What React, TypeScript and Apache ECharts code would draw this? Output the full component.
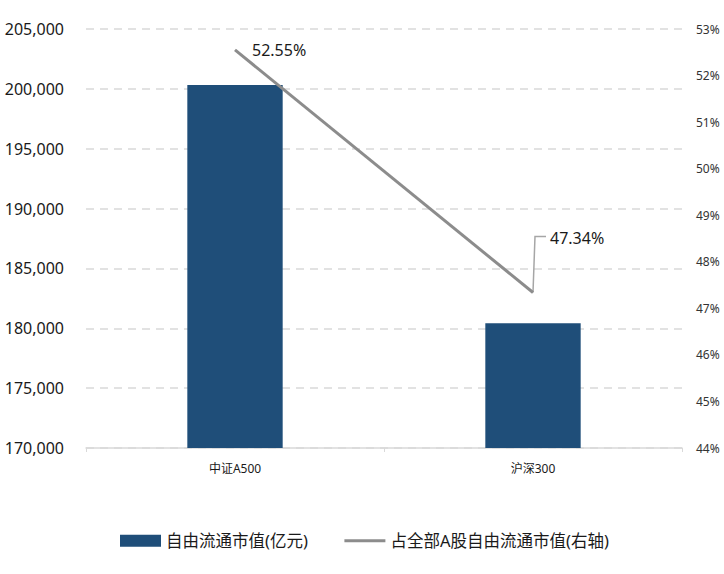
import React, { useEffect, useRef } from "react";
import * as echarts from "echarts";

const categories = ["中证A500", "沪深300"];
const marketCap = [200330, 180420];
const shareOfA = [52.55, 47.34];
const leftTicks = { min: 170000, max: 205000, interval: 5000 };
const rightTicks = { min: 44, max: 53, interval: 1 };
const seriesNames = ["自由流通市值(亿元)", "占全部A股自由流通市值(右轴)"];

const FONT = "'Noto Sans', 'Noto Sans CJK SC', sans-serif";
const LEADER_RISE = 56;

export default function App() {
  const ref = useRef<HTMLDivElement>(null);
  useEffect(() => {
    if (!ref.current) return;
    const chart = echarts.init(ref.current, null, { renderer: "svg" });
    chart.setOption({
      animation: false,
      textStyle: { fontFamily: FONT },
      grid: { left: 86, right: 42, top: 29, bottom: 126, containLabel: false },
      legend: {
        bottom: 20,
        left: 115,
        itemWidth: 41,
        itemHeight: 12,
        itemGap: 35,
        textStyle: { fontSize: 16.5, color: "#1a1a1a", fontFamily: FONT },
        data: [
          { name: seriesNames[0], icon: "rect" },
          {
            name: seriesNames[1],
            itemStyle: { opacity: 0 },
            lineStyle: { width: 3, color: "#8c8c8c" },
          },
        ],
      },
      xAxis: {
        type: "category",
        data: categories,
        axisLine: { lineStyle: { color: "#d9d9d9", width: 1.5 } },
        axisTick: { show: true, length: 4, lineStyle: { color: "#d9d9d9" } },
        axisLabel: { fontSize: 12, color: "#1a1a1a", margin: 14 },
      },
      yAxis: [
        {
          type: "value",
          min: leftTicks.min,
          max: leftTicks.max,
          interval: leftTicks.interval,
          axisLine: { show: false },
          axisTick: { show: false },
          axisLabel: {
            fontSize: 16,
            color: "#1a1a1a",
            margin: 22,
            formatter: (v: number) => v.toLocaleString("en-US"),
          },
          splitLine: { lineStyle: { color: "#d9d9d9", type: [8, 6], width: 1.5 } },
        },
        {
          type: "value",
          min: rightTicks.min,
          max: rightTicks.max,
          interval: rightTicks.interval,
          axisLine: { show: false },
          axisTick: { show: false },
          axisLabel: { fontSize: 12, color: "#333", margin: 14, formatter: "{value}%" },
          splitLine: { show: false },
        },
      ],
      series: [
        {
          name: seriesNames[0],
          type: "bar",
          data: marketCap,
          barWidth: "32%",
          itemStyle: { color: "#1f4e79" },
        },
        {
          name: seriesNames[1],
          type: "line",
          yAxisIndex: 1,
          data: shareOfA,
          symbol: "circle",
          symbolSize: 0,
          showSymbol: true,
          lineStyle: { color: "#8c8c8c", width: 3 },
          itemStyle: { color: "#8c8c8c" },
          label: {
            show: true,
            position: "right",
            distance: 17,
            fontSize: 16,
            color: "#1a1a1a",
            formatter: (p: any) => p.value.toFixed(2) + "%",
          },
          labelLayout: (p: any) => (p.dataIndex === 1 ? { dy: -LEADER_RISE + 1 } : {}),
        },
      ],
    });
    const pt = chart.convertToPixel({ xAxisIndex: 0, yAxisIndex: 1 }, [
      categories[1],
      shareOfA[1],
    ]) as number[];
    if (pt) {
      chart.setOption({
        graphic: [
          {
            type: "polyline",
            silent: true,
            shape: {
              points: [
                [pt[0], pt[1]],
                [pt[0] + 2, pt[1] - LEADER_RISE],
                [pt[0] + 13, pt[1] - LEADER_RISE],
              ],
            },
            style: { stroke: "#a6a6a6", lineWidth: 1.5, fill: "none" },
          },
        ],
      });
    }
    return () => chart.dispose();
  }, []);
  return (
    <div
      ref={ref}
      style={{ position: "absolute", left: 0, top: 0, width: 724, height: 574 }}
    />
  );
}
